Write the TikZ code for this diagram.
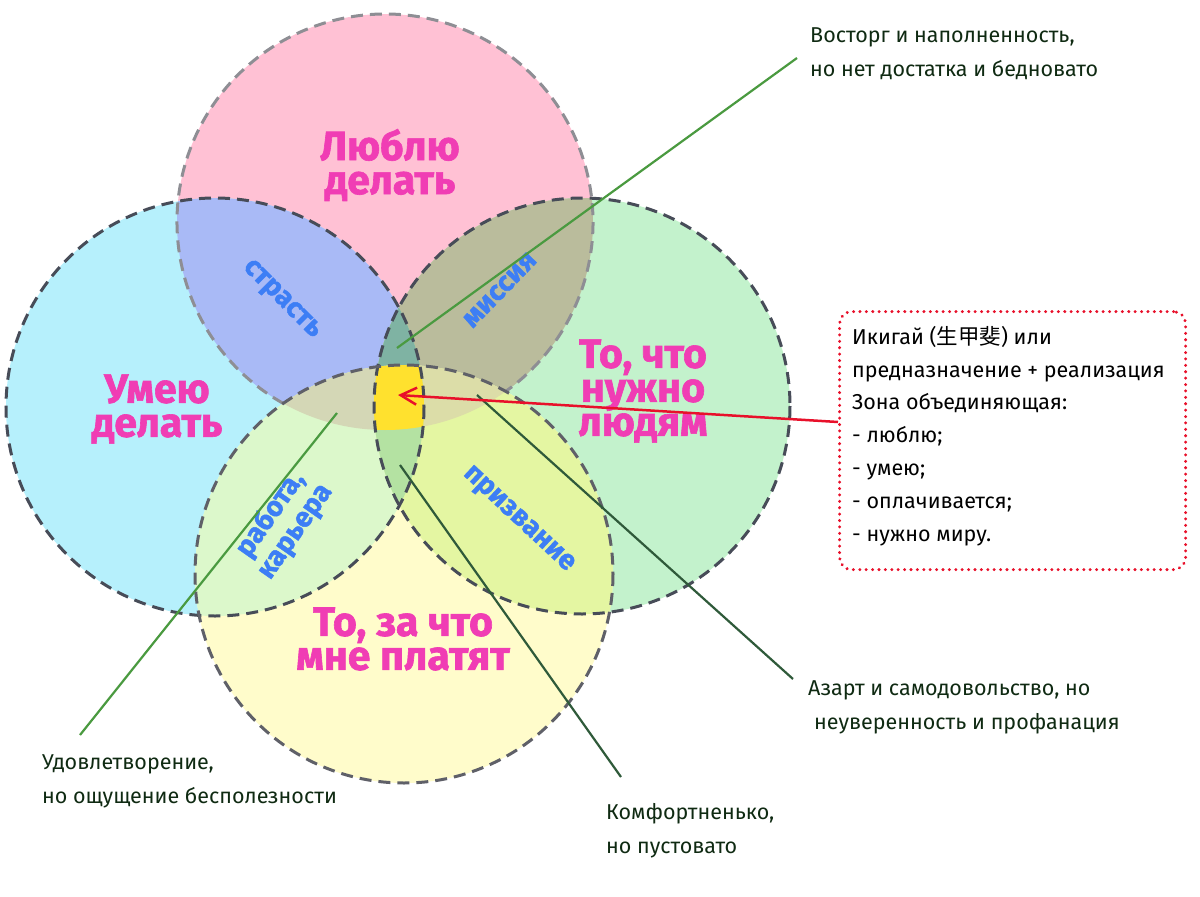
\documentclass[tikz,border=0pt]{standalone}
\usepackage{fontspec}
\setmainfont{Fira Sans}
\newfontfamily\heavyfont{Fira Sans}[BoldFeatures={FakeBold=1.5}]
\newfontfamily\cjkfont{Noto Sans CJK JP}
\usetikzlibrary{arrows.meta,calc}
\definecolor{pinkc}{HTML}{FFC1D4}
\definecolor{bluec}{HTML}{B6F0FC}
\definecolor{greenc}{HTML}{C3F2CC}
\definecolor{yellowc}{HTML}{FFFCCB}
\definecolor{pbc}{HTML}{A9BAF6}
\definecolor{pgc}{HTML}{BABC9C}
\definecolor{pyc}{HTML}{D6D8B4}
\definecolor{bgc}{HTML}{B4E2A2}
\definecolor{byc}{HTML}{DCF8CB}
\definecolor{gyc}{HTML}{E4F6A2}
\definecolor{pbgc}{HTML}{7FB3A3}
\definecolor{pbyc}{HTML}{D4D7B6}
\definecolor{pgyc}{HTML}{DCDDA8}
\definecolor{bgyc}{HTML}{B4E2A2}
\definecolor{centerc}{HTML}{FFE12E}
\definecolor{magc}{HTML}{F03DB4}
\definecolor{bluetxt}{HTML}{3D7EF5}
\definecolor{notec}{HTML}{0F2A12}
\definecolor{redc}{HTML}{E8102A}
\definecolor{leaderlight}{HTML}{4A9A40}
\definecolor{leaderdark}{HTML}{2F5A3A}
\definecolor{outdark}{HTML}{474C58}
\definecolor{outmid}{HTML}{5F6068}
\definecolor{outlight}{HTML}{8E8E94}
\def\circP{(385,222) circle[radius=208]}
\def\circB{(215,407) circle[radius=209]}
\def\circG{(582,406) circle[radius=208]}
\def\circY{(404,574) circle[radius=209]}
\tikzset{
  outline/.style={line width=3pt, dash pattern=on 12pt off 7pt},
  bigtext/.style={font=\heavyfont\bfseries\fontsize{41}{34}\selectfont, text=magc, align=center, inner sep=0pt},
  zonetext/.style={font=\heavyfont\bfseries\fontsize{28}{30}\selectfont, text=bluetxt, align=center, inner sep=0pt},
  notetext/.style={font=\fontsize{21.5}{34}\selectfont, text=notec, align=left, anchor=west, inner sep=0pt},
  leader/.style={line width=2.2pt},
  redbox/.style={draw=redc, line width=3.2pt, line cap=round, dash pattern=on 0.1pt off 6.3pt, rounded corners=12pt}
}
\begin{document}
\begin{tikzpicture}[x=1pt,y=-1pt]
\useasboundingbox (0,0) rectangle (1200,897);
\fill[white] (0,0) rectangle (1200,897);
% single circles
\fill[pinkc] \circP;
\fill[bluec] \circB;
\fill[greenc] \circG;
\fill[yellowc] \circY;
% pairs
\begin{scope}\clip \circP; \fill[pbc] \circB; \fill[pgc] \circG; \fill[pyc] \circY; \end{scope}
\begin{scope}\clip \circB; \fill[bgc] \circG; \fill[byc] \circY; \end{scope}
\begin{scope}\clip \circG; \fill[gyc] \circY; \end{scope}
% triples
\begin{scope}\clip \circP; \clip \circB; \fill[pbgc] \circG; \fill[pbyc] \circY; \end{scope}
\begin{scope}\clip \circP; \clip \circG; \fill[pgyc] \circY; \end{scope}
\begin{scope}\clip \circB; \clip \circG; \fill[bgyc] \circY; \end{scope}
% all four
\begin{scope}\clip \circP; \clip \circB; \clip \circG; \fill[centerc] \circY; \end{scope}
% outlines
\draw[outline, outlight] ([shift={(119.3:208)}]385,222) arc[start angle=119.3, end angle=414.5, radius=208];
\draw[outline, outdark] \circB;
\draw[outline, outdark] \circG;
\draw[outline, outmid] \circY;
% circle labels
\node[bigtext] (love) at (390,165) {Люблю\\делать};
\node[bigtext] (skill) at (157,409) {Умею\\делать};
\node[bigtext] (need) at (643,391) {То, что\\нужно\\людям};
\node[bigtext] (paid) at (403,639) {То, за что\\мне платят};
% zone labels
\node[zonetext, rotate=-45] (passion) at (281,300) {страсть};
\node[zonetext, rotate=46] (mission) at (500,290) {миссия};
\node[zonetext, rotate=55] (career) at (283,523) {работа,\\карьера};
\node[zonetext, rotate=-43] (vocation) at (518,520) {призвание};
% notes
\node[notetext] (vostorg) at (810,54) {Восторг и наполненность,\\но нет достатка и бедновато};
\node[notetext] (azart) at (808,707) {Азарт и самодовольство, но\\\hspace*{6pt}неуверенность и профанация};
\node[notetext] (udovl) at (42,781) {Удовлетворение,\\но ощущение бесполезности};
\node[notetext] (komf) at (606,831) {Комфортненько,\\но пустовато};
% red box
\node[redbox, minimum width=346pt, minimum height=258pt, anchor=north west] (box) at (838,310) {};
\node[font=\fontsize{21.5}{32.8}\selectfont, text=black, align=left, anchor=north west, inner sep=0pt] (boxtext) at (852,326)
  {Икигай ({\cjkfont 生甲斐}) или\\предназначение + реализация\\Зона объединяющая:\\- люблю;\\- умею;\\- оплачивается;\\- нужно миру.};
% coordinates
\coordinate (ikigai) at (398,395);
\coordinate (boxin) at (838,422);
\coordinate (tealpt) at (397,348);
\coordinate (vostorgend) at (797,58);
\coordinate (leftband) at (337,413);
\coordinate (udovlend) at (80,735);
\coordinate (lowgreen) at (400,465);
\coordinate (komfend) at (621,777);
\coordinate (rightband) at (477,395);
\coordinate (azartend) at (793,679);
% leaders
\draw[leader, leaderlight] (tealpt) -- (vostorgend);
\draw[leader, leaderlight] (leftband) -- (udovlend);
\draw[leader, leaderdark] (lowgreen) -- (komfend);
\draw[leader, leaderdark] (rightband) -- (azartend);
\draw[redc, line width=2.5pt, -{Straight Barb[length=16pt,width=17pt]}] (boxin) -- (ikigai);
\end{tikzpicture}
\end{document}
